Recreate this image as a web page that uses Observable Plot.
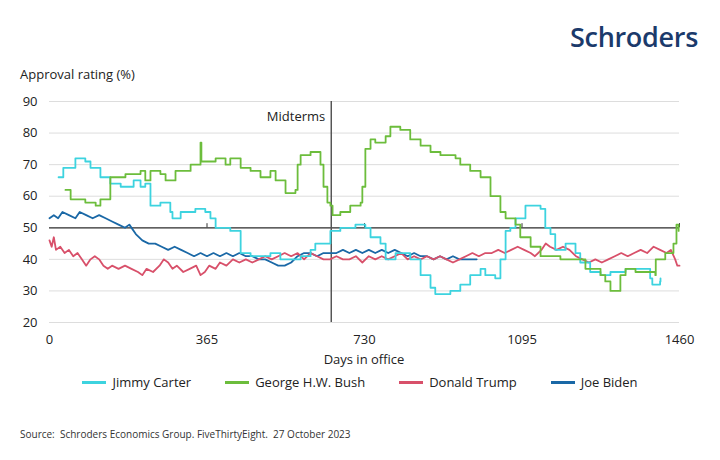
<!DOCTYPE html>
<html><head><meta charset="utf-8">
<script src="https://cdn.jsdelivr.net/npm/d3@7"></script>
<script src="https://cdn.jsdelivr.net/npm/@observablehq/plot@0.6"></script>
<style>
body{margin:0;background:#fff;font-family:"Open Sans",sans-serif;color:#222;}
#wrap{position:relative;width:720px;height:460px;}
#logo{position:absolute;right:22px;top:18px;font-size:27px;font-weight:600;color:#1b3a6b;letter-spacing:-0.3px}
#ylab{position:absolute;left:20px;top:65px;font-size:13px}
#chart{position:absolute;left:0;top:85px}
#xlab{position:absolute;left:0;width:728px;text-align:center;top:350px;font-size:13px}
#legend{position:absolute;top:373px;left:0;width:720px;display:flex;justify-content:center;gap:34px;font-size:13px}
#legend span{display:flex;align-items:center}
#legend i{display:inline-block;width:24px;height:3px;margin-right:6px}
#src{position:absolute;left:20px;top:427px;font-size:10px;color:#333}
</style></head><body>
<div id="wrap">
<div id="logo">Schroders</div>
<div id="ylab">Approval rating (%)</div>
<div id="chart"></div>
<div id="xlab">Days in office</div>
<div id="legend"></div>
<div id="src">Source:&nbsp; Schroders Economics Group. FiveThirtyEight.&nbsp; 27 October 2023</div>
</div>
<script>
const seriesNames=["Jimmy Carter","George H.W. Bush","Donald Trump","Joe Biden"];
const colors=["#3dd3df","#6cbd3c","#d8506a","#1a68a6"];
const carter=[[21,66],[32,69],[60,72],[83,71],[95,69],[118,66],[141,64],[165,63],[195,65],[211,63],[222,64],[234,57],[257,58],[280,55],[285,53],[304,55],[338,56],[361,55],[373,53],[385,50],[419,49],[443,42],[466,41],[512,42],[535,40],[582,41],[605,43],[616,45],[651,49],[674,50],[709,51],[732,50],[744,47],[767,45],[779,40],[802,42],[836,40],[860,35],[883,31],[894,29],[929,30],[952,32],[975,35],[999,37],[1010,35],[1033,34],[1045,40],[1057,49],[1068,50],[1080,53],[1103,57],[1138,56],[1149,50],[1161,48],[1172,43],[1196,45],[1219,42],[1230,39],[1253,36],[1277,35],[1300,36],[1335,37],[1392,34],[1397,32],[1415,33],[1416,34]];
const bush=[[37,62],[49,59],[83,58],[107,57],[118,59],[141,66],[176,67],[211,68],[222,65],[234,68],[257,67],[269,65],[292,68],[327,70],[348,70],[350,77],[352,71],[385,72],[408,70],[419,72],[443,69],[466,68],[489,66],[512,68],[524,65],[547,61],[570,62],[575,70],[582,73],[605,74],[628,70],[635,63],[644,58],[651,57],[656,54],[674,55],[697,57],[721,58],[725,63],[732,75],[744,78],[755,77],[779,79],[790,82],[813,81],[836,78],[860,76],[883,74],[906,73],[941,72],[952,70],[975,68],[999,66],[1022,60],[1045,55],[1057,53],[1080,51],[1091,47],[1115,44],[1138,41],[1184,40],[1219,40],[1242,37],[1277,35],[1288,33],[1300,30],[1323,35],[1335,37],[1358,36],[1404,35],[1405,40],[1427,42],[1446,45],[1453,51],[1458,49]];
const trump=[[0,46],[5,44],[10,47],[15,43],[25,44],[35,42],[45,43],[55,41],[65,42],[75,40],[85,38],[95,40],[105,41],[115,40],[125,38],[135,37],[145,38],[160,37],[175,38],[190,37],[205,36],[215,35],[225,37],[240,36],[255,38],[265,40],[275,39],[285,37],[295,38],[310,36],[325,37],[340,38],[350,35],[360,36],[370,38],[385,37],[395,39],[410,38],[425,40],[440,39],[455,40],[470,39],[485,40],[500,41],[515,40],[530,41],[545,42],[560,41],[575,42],[590,40],[605,42],[620,41],[635,40],[650,40],[665,41],[680,40],[695,40],[710,41],[725,39],[740,41],[755,40],[770,41],[785,40],[800,41],[815,42],[830,40],[845,41],[860,40],[875,41],[890,40],[905,41],[920,40],[935,39],[950,40],[965,41],[980,42],[995,41],[1010,42],[1025,42],[1040,43],[1055,42],[1070,43],[1085,44],[1100,43],[1115,42],[1125,41],[1140,43],[1150,45],[1160,44],[1175,43],[1190,44],[1205,43],[1220,41],[1235,40],[1250,39],[1265,40],[1280,39],[1295,40],[1310,41],[1325,42],[1340,41],[1355,42],[1370,43],[1385,42],[1400,44],[1415,43],[1430,42],[1440,43],[1450,40],[1455,38],[1460,38]];
const biden=[[0,53],[10,54],[20,53],[30,55],[45,54],[60,53],[70,55],[85,54],[100,53],[115,54],[130,53],[145,52],[160,51],[175,50],[185,51],[200,48],[215,46],[230,45],[245,45],[260,44],[275,43],[290,44],[305,43],[320,42],[335,41],[350,42],[365,41],[380,42],[395,41],[410,42],[425,41],[440,42],[455,41],[470,41],[485,40],[500,40],[515,39],[530,38],[545,38],[560,39],[575,41],[590,42],[605,42],[620,41],[635,42],[650,42],[665,42],[680,43],[695,42],[710,43],[725,42],[740,43],[755,42],[770,43],[785,42],[800,43],[815,42],[830,41],[845,42],[860,41],[875,41],[890,40],[905,41],[920,40],[935,41],[950,40],[965,40],[980,40],[990,40]];
const xTicks=[0,365,730,1095,1460];
const yTicks=[20,30,40,50,60,70,80,90];
const midterm=653;
const all=[carter,bush,trump,biden].map((s,i)=>s.map(([d,v])=>({d,v,name:seriesNames[i]})));
const ln=(data,i,curve)=>Plot.line(data,{x:"d",y:"v",stroke:colors[i],strokeWidth:1.8,curve});
const chart=Plot.plot({
  width:720,height:290,marginLeft:49,marginRight:41,marginTop:16,marginBottom:53,
  style:{fontFamily:"Open Sans",fontSize:"13px",color:"#222"},
  x:{domain:[0,1460],ticks:xTicks,tickFormat:"d",label:null,tickSize:0,tickPadding:12},
  y:{domain:[20,90],ticks:yTicks,label:null,tickSize:0,tickPadding:12},
  marks:[
    Plot.gridY(yTicks,{stroke:"#ddd",strokeOpacity:1}),
    Plot.ruleY([50],{stroke:"#333",strokeWidth:1.2}),
    Plot.ruleX(xTicks.slice(1),{x:d=>d,y1:50,y2:51.3,stroke:"#333"}),
    Plot.ruleX([midterm],{y1:20,y2:90,stroke:"#555",strokeWidth:1.5}),
    Plot.text(["Midterms"],{x:midterm,y:85,dx:-6,textAnchor:"end",fontSize:13,fill:"#222"}),
    ln(all[3],3,"linear"),ln(all[2],2,"linear"),ln(all[0],0,"step-after"),ln(all[1],1,"step-after")
  ]
});
document.getElementById("chart").append(chart);
document.getElementById("legend").innerHTML=seriesNames.map((n,i)=>`<span><i style="background:${colors[i]}"></i>${n}</span>`).join("");
</script></body></html>
